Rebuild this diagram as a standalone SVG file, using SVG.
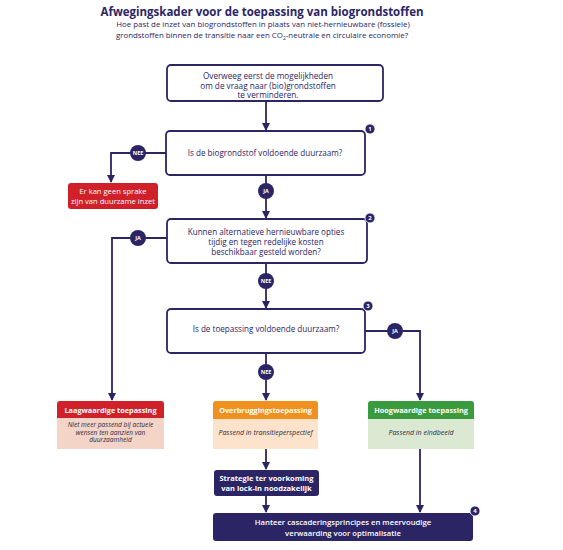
<svg xmlns="http://www.w3.org/2000/svg" width="563" height="550" viewBox="0 0 563 550">
<defs>
<marker id="arr" markerWidth="8" markerHeight="8" refX="7" refY="4" orient="auto" markerUnits="userSpaceOnUse">
<path d="M0,0 L8,4 L0,8 Z" fill="#2b2566"/>
</marker>
<style>
text{font-family:"Open Sans","Noto Sans","Liberation Sans",sans-serif;fill:#2b2566;}
.q{fill:#fff;stroke:#2b2566;stroke-width:1.8;}
.qt{font-size:8.1px;font-weight:500;text-anchor:middle;}
.qs{font-size:8.2px;font-weight:500;text-anchor:middle;}
.ln{fill:none;stroke:#2b2566;stroke-width:1.8;}
.lbl{fill:#2b2566;}
.lt{font-size:5.5px;font-weight:bold;fill:#fff;text-anchor:middle;}
.bd{fill:#2b2566;stroke:#fff;stroke-width:0.8;}
.bt{font-size:6px;font-weight:bold;fill:#fff;text-anchor:middle;}
.ht{font-size:7.3px;font-weight:bold;fill:#fff;text-anchor:middle;}
.rt{font-size:7.6px;font-weight:500;fill:#fff;text-anchor:middle;}
.it{font-size:7px;font-style:italic;text-anchor:middle;fill:#2a2a3a;}
.il{font-size:6.6px;font-style:italic;text-anchor:middle;fill:#2a2a3a;}
.wt{font-size:7.5px;font-weight:bold;fill:#fff;text-anchor:middle;}
.ct{font-size:7.7px;font-weight:600;fill:#fff;text-anchor:middle;}
.sub{font-size:7.9px;font-weight:500;text-anchor:middle;}
</style>
</defs>
<rect width="563" height="550" fill="#fff"/>
<g id="title">
<text x="262" y="16" font-size="12.5" font-weight="bold" text-anchor="middle" textLength="323" lengthAdjust="spacingAndGlyphs">Afwegingskader voor de toepassing van biogrondstoffen</text>
<text class="sub" x="263" y="27">Hoe past de inzet van biogrondstoffen in plaats van niet-hernieuwbare (fossiele)</text>
<text class="sub" x="262" y="38">grondstoffen binnen de transitie naar een CO<tspan font-size="5" dy="1.5">2</tspan><tspan dy="-1.5">-neutrale en circulaire economie?</tspan></text>
</g>
<g id="connectors">
<line class="ln" x1="266" y1="101" x2="266" y2="130" marker-end="url(#arr)"/>
<polyline class="ln" points="166,153 111,153 111,182" marker-end="url(#arr)"/>
<line class="ln" x1="266" y1="175" x2="266" y2="218" marker-end="url(#arr)"/>
<polyline class="ln" points="167,238 112,238 112,400" marker-end="url(#arr)"/>
<line class="ln" x1="266" y1="263" x2="266" y2="308" marker-end="url(#arr)"/>
<polyline class="ln" points="365,331 420,331 420,400" marker-end="url(#arr)"/>
<line class="ln" x1="266" y1="353" x2="266" y2="400" marker-end="url(#arr)"/>
<line class="ln" x1="266" y1="449" x2="266" y2="469" marker-end="url(#arr)"/>
<line class="ln" x1="266" y1="496" x2="266" y2="512" marker-end="url(#arr)"/>
<line class="ln" x1="420" y1="449" x2="420" y2="512" marker-end="url(#arr)"/>
<g id="label-nee-1"><circle class="lbl" cx="138" cy="153" r="8"/><text class="lt" x="138" y="155">NEE</text></g>
<g id="label-ja-1"><circle class="lbl" cx="266" cy="191" r="8"/><text class="lt" x="266" y="193">JA</text></g>
<g id="label-ja-2"><circle class="lbl" cx="138" cy="238" r="8"/><text class="lt" x="138" y="240">JA</text></g>
<g id="label-nee-2"><circle class="lbl" cx="266" cy="281" r="8"/><text class="lt" x="266" y="283">NEE</text></g>
<g id="label-ja-3"><circle class="lbl" cx="395" cy="331" r="8"/><text class="lt" x="395" y="333">JA</text></g>
<g id="label-nee-3"><circle class="lbl" cx="266" cy="372" r="8"/><text class="lt" x="266" y="374">NEE</text></g>
</g>
<g id="start">
<rect class="q" x="167" y="65" width="216" height="36" rx="4"/>
<text class="qs" x="268" y="79">Overweeg eerst de mogelijkheden</text>
<text class="qs" x="268" y="88.5">om de vraag naar (bio)grondstoffen</text>
<text class="qs" x="268" y="98">te verminderen.</text>
</g>
<g id="q1">
<rect class="q" x="166" y="131" width="199" height="44" rx="4"/>
<text class="qt" x="265" y="156">Is de biogrondstof voldoende duurzaam?</text>
<circle class="bd" cx="370" cy="129" r="5"/><text class="bt" x="370" y="131.2">1</text>
</g>
<g id="no-sustainable">
<rect x="68" y="183" width="90" height="26" rx="3" fill="#d0202a"/>
<text class="rt" x="113" y="194">Er kan geen sprake</text>
<text class="rt" x="113" y="203.5">zijn van duurzame inzet</text>
</g>
<g id="q2">
<rect class="q" x="167" y="219" width="200" height="44" rx="4"/>
<text class="qt" x="266" y="234.5">Kunnen alternatieve hernieuwbare opties</text>
<text class="qt" x="266" y="244.5">tijdig en tegen redelijke kosten</text>
<text class="qt" x="266" y="255">beschikbaar gesteld worden?</text>
<circle class="bd" cx="370" cy="218" r="5"/><text class="bt" x="370" y="220.2">2</text>
</g>
<g id="q3">
<rect class="q" x="167" y="309" width="198" height="44" rx="4"/>
<text class="qt" x="266" y="331.5">Is de toepassing voldoende duurzaam?</text>
<circle class="bd" cx="368" cy="306" r="5"/><text class="bt" x="368" y="308.2">3</text>
</g>
<g id="laagwaardig">
<path d="M57,449 V404 a3,3 0 0 1 3,-3 H161 a3,3 0 0 1 3,3 V449 Z" fill="#f5d4c8"/>
<path d="M57,418 V404 a3,3 0 0 1 3,-3 H161 a3,3 0 0 1 3,3 V418 Z" fill="#d0202a"/>
<text class="ht" x="110.5" y="412.5">Laagwaardige toepassing</text>
<text class="il" x="110.5" y="427">Niet meer passend bij actuele</text>
<text class="il" x="110.5" y="434.5">wensen ten aanzien van</text>
<text class="il" x="110.5" y="442">duurzaamheid</text>
</g>
<g id="overbrugging">
<path d="M213,449 V404 a3,3 0 0 1 3,-3 H315 a3,3 0 0 1 3,3 V449 Z" fill="#fde3cc"/>
<path d="M213,419 V404 a3,3 0 0 1 3,-3 H315 a3,3 0 0 1 3,3 V419 Z" fill="#f0901e"/>
<text class="ht" x="265.5" y="413">Overbruggingstoepassing</text>
<text class="it" x="265.5" y="434.5">Passend in transitieperspectief</text>
</g>
<g id="hoogwaardig">
<path d="M368,449 V404 a3,3 0 0 1 3,-3 H471 a3,3 0 0 1 3,3 V449 Z" fill="#dce9d2"/>
<path d="M368,419 V404 a3,3 0 0 1 3,-3 H471 a3,3 0 0 1 3,3 V419 Z" fill="#3a9a3e"/>
<text class="ht" x="421" y="413">Hoogwaardige toepassing</text>
<text class="it" x="421" y="434.5">Passend in eindbeeld</text>
</g>
<g id="strategie">
<rect x="214" y="470" width="105" height="26" rx="3" fill="#2b2566"/>
<text class="wt" x="266.5" y="480.5">Strategie ter voorkoming</text>
<text class="wt" x="266.5" y="490.5">van lock-in noodzakelijk</text>
</g>
<g id="cascadering">
<rect x="213" y="513" width="260" height="28" rx="3" fill="#2b2566"/>
<text class="ct" x="343" y="525">Hanteer cascaderingsprincipes en meervoudige</text>
<text class="ct" x="343" y="535.5">verwaarding voor optimalisatie</text>
<circle class="bd" cx="475" cy="511" r="5"/><text class="bt" x="475" y="513.2">4</text>
</g>
</svg>
